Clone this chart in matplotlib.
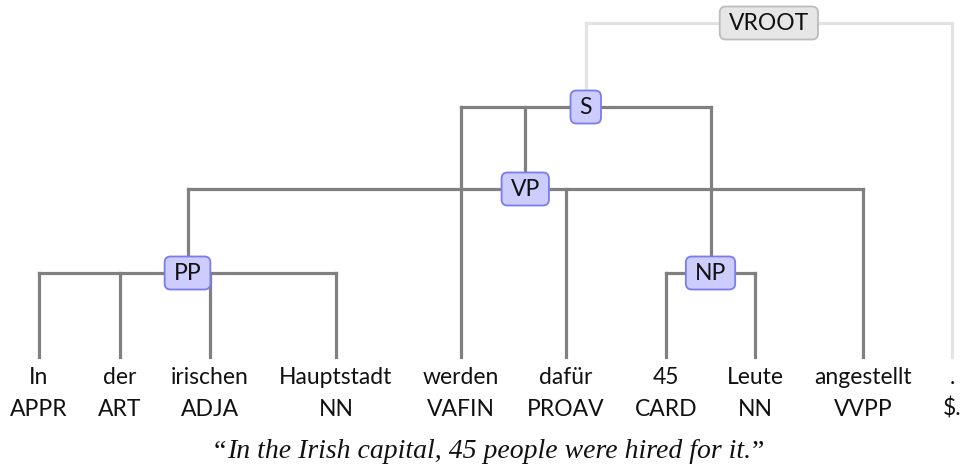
import matplotlib
matplotlib.use("Agg")
import matplotlib.pyplot as plt
from matplotlib.patches import FancyBboxPatch

# leaves: word, POS tag, x position (pixels)
words = ["In", "der", "irischen", "Hauptstadt", "werden", "dafür", "45", "Leute", "angestellt", "."]
tags = ["APPR", "ART", "ADJA", "NN", "VAFIN", "PROAV", "CARD", "NN", "VVPP", "$."]
word_x = [39, 120, 210, 336, 461, 566, 666, 755, 863, 952]

# phrase nodes: name -> (level y, children); ints are leaf indices
nodes = {
    "PP": (273, [0, 1, 2, 3]),
    "NP": (273, [6, 7]),
    "VP": (189, ["PP", 5, 8]),
    "S": (107, [4, "VP", "NP"]),
    "VROOT": (23, ["S", 9]),
}
caption = "In the Irish capital, 45 people were hired for it."

LEAF_Y = 357
W, H = 961, 472

fig = plt.figure(figsize=(W / 100, H / 100), dpi=100)
ax = fig.add_axes([0, 0, 1, 1])
ax.set_xlim(0, W)
ax.set_ylim(H, 0)
ax.axis("off")

pos = {}
def node_pos(c):
    if isinstance(c, int):
        return word_x[c], LEAF_Y
    if c not in pos:
        y, kids = nodes[c]
        xs = [node_pos(k)[0] for k in kids]
        pos[c] = ((min(xs) + max(xs)) / 2, y)
    return pos[c]

for name, (y, kids) in nodes.items():
    x, y = node_pos(name)
    col = "#e3e3e3" if name == "VROOT" else "#808080"
    pts = [node_pos(k) for k in kids]
    xs = [p[0] for p in pts]
    ax.plot([min(xs), max(xs)], [y, y], color=col, lw=2.3, solid_capstyle="projecting", zorder=1)
    for px, py in pts:
        ax.plot([px, px], [y, py], color=col, lw=2.3, solid_capstyle="projecting", zorder=1)

fig.canvas.draw()
r = fig.canvas.get_renderer()
for name in nodes:
    x, y = node_pos(name)
    if name == "VROOT":
        fc, ec = "#e6e6e6", "#bdbdbd"
    else:
        fc, ec = "#ccccff", "#7b7bf0"
    t = ax.text(x, y + 1, name, ha="center", va="center", fontsize=16.5, family="Lato",
                color="#111111", zorder=3)
    tw = t.get_window_extent(r).width
    bw, bh = tw + 18, 33
    ax.add_patch(FancyBboxPatch((x - bw / 2 + 6, y - bh / 2 + 6), bw - 12, bh - 12,
                                boxstyle="round,pad=6", fc=fc, ec=ec, lw=1.3, zorder=2))

for w, t, x in zip(words, tags, word_x):
    ax.text(x, 377, w, ha="center", va="center", fontsize=16.5, family="Lato", color="#111111")
    ax.text(x, 409, t, ha="center", va="center", fontsize=16.5, family="Lato", color="#111111")

cap_x = 489
cap = ax.text(cap_x, 452, caption, ha="center", va="center", fontsize=20,
              family="Liberation Serif", style="italic", color="#111111")
bb = cap.get_window_extent(r)
x0 = bb.x0 * W / fig.bbox.width
x1 = bb.x1 * W / fig.bbox.width
ax.text(x0 - 1, 452, "\u201c", ha="right", va="center", fontsize=20,
        family="Liberation Serif", color="#111111")
ax.text(x1 + 1, 452, "\u201d", ha="left", va="center", fontsize=20,
        family="Liberation Serif", color="#111111")

fig.savefig("out.png", dpi=100)
